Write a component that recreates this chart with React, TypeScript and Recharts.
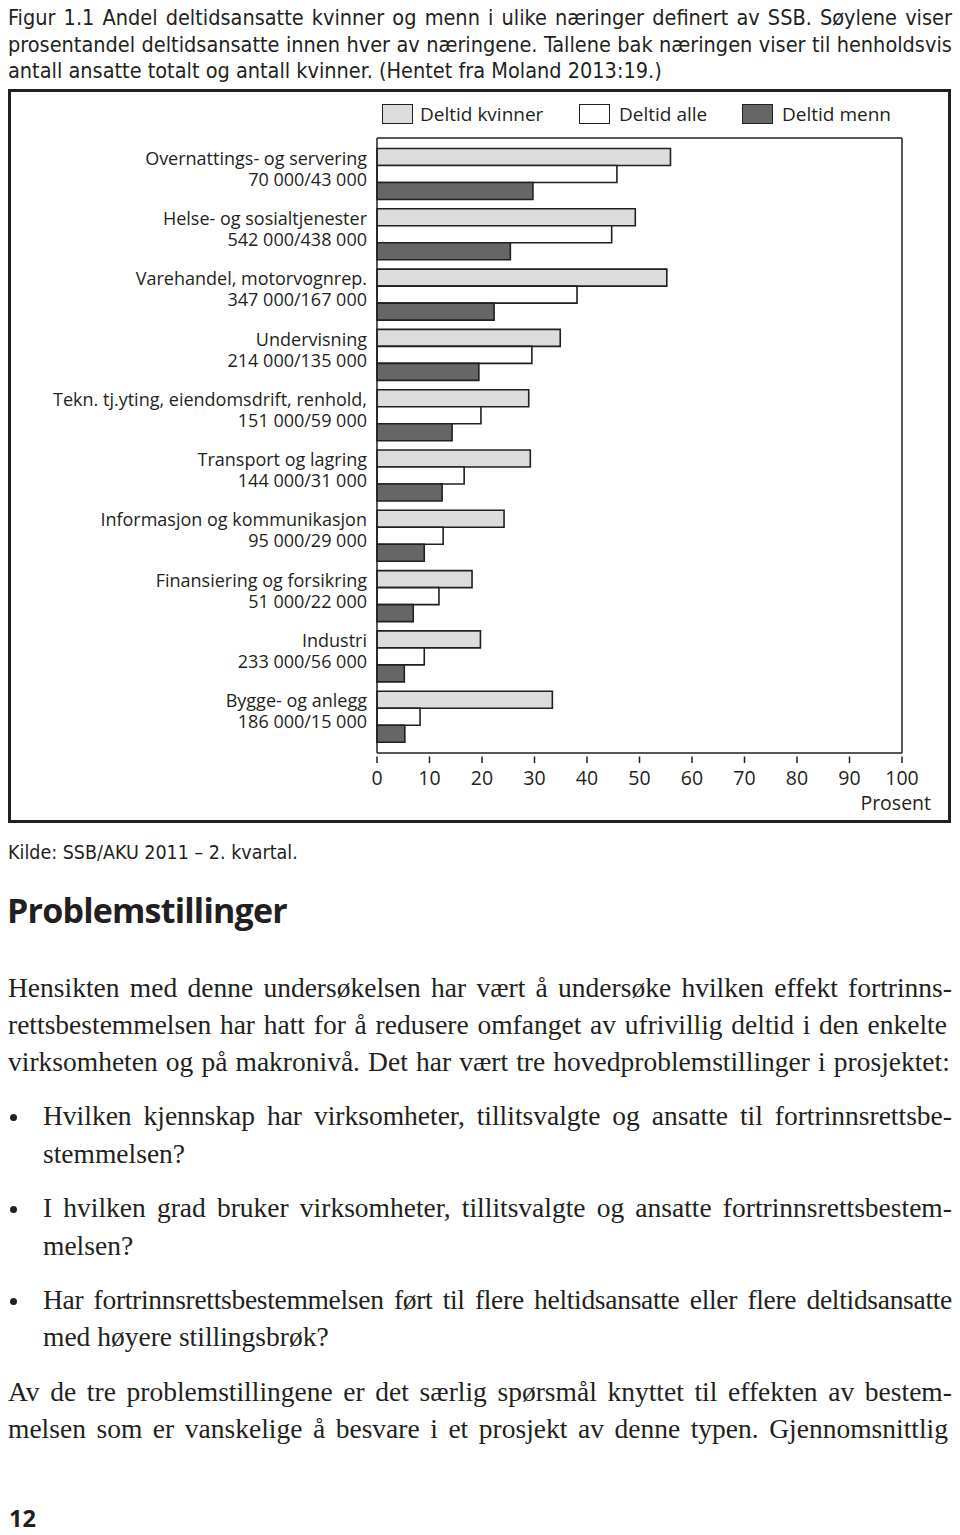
import React from "react";
import { BarChart, Bar, XAxis, YAxis, CartesianGrid } from "recharts";

const categories = [
  "Overnattings- og servering",
  "Helse- og sosialtjenester",
  "Varehandel, motorvognrep.",
  "Undervisning",
  "Tekn. tj.yting, eiendomsdrift, renhold,",
  "Transport og lagring",
  "Informasjon og kommunikasjon",
  "Finansiering og forsikring",
  "Industri",
  "Bygge- og anlegg",
];
const counts = [
  "70 000/43 000",
  "542 000/438 000",
  "347 000/167 000",
  "214 000/135 000",
  "151 000/59 000",
  "144 000/31 000",
  "95 000/29 000",
  "51 000/22 000",
  "233 000/56 000",
  "186 000/15 000",
];
const deltidKvinner = [55.9, 49.2, 55.2, 34.9, 28.9, 29.2, 24.2, 18.1, 19.7, 33.4];
const deltidAlle = [45.7, 44.7, 38.1, 29.5, 19.8, 16.6, 12.6, 11.8, 9.0, 8.2];
const deltidMenn = [29.7, 25.4, 22.3, 19.4, 14.3, 12.4, 9.0, 6.9, 5.2, 5.3];
const xTicks = [0, 10, 20, 30, 40, 50, 60, 70, 80, 90, 100];

const series = [
  { key: "kvinner", name: "Deltid kvinner", fill: "#dcdcdc" },
  { key: "alle", name: "Deltid alle", fill: "#ffffff" },
  { key: "menn", name: "Deltid menn", fill: "#666666" },
];

const data = categories.map((name, i) => ({
  name,
  count: counts[i],
  kvinner: deltidKvinner[i],
  alle: deltidAlle[i],
  menn: deltidMenn[i],
}));

const captionLines = [
  "Figur 1.1 Andel deltidsansatte kvinner og menn i ulike næringer definert av SSB. Søylene viser",
  "prosentandel deltidsansatte innen hver av næringene. Tallene bak næringen viser til henholdsvis",
  "antall ansatte totalt og antall kvinner. (Hentet fra Moland 2013:19.)",
];

const SANS = '"Open Sans", "Noto Sans", sans-serif';
const NARROW = '"Liberation Sans Narrow", "DejaVu Sans Condensed", "DejaVu Sans", sans-serif';
const SERIF = '"Liberation Serif", "DejaVu Serif", serif';
const INK = "#231f20";
const BODY = 27.5;

function Line({ text, left, right, cy, h, font, size, justify, weight, stretch, spacing }: any) {
  const base: React.CSSProperties = {
    position: "absolute",
    left,
    top: cy - h / 2,
    height: h,
    lineHeight: `${h}px`,
    fontFamily: font,
    fontSize: size,
    fontWeight: weight || 400,
    fontStretch: stretch || "normal",
    letterSpacing: spacing || 0,
    color: INK,
    whiteSpace: "nowrap",
  };
  if (!justify) return <div style={base}>{text}</div>;
  return (
    <div style={{ ...base, width: right - left, display: "flex", justifyContent: "space-between" }}>
      {text.split(" ").map((w: string, i: number) => (
        <span key={i}>{w}</span>
      ))}
    </div>
  );
}

const CategoryTick = (props: any) => {
  const { x, y, payload } = props;
  const idx = categories.indexOf(payload.value);
  return (
    <g>
      <text x={x} y={y - 9} textAnchor="end" fontFamily={SANS} fontSize={18} fill={INK}>
        {payload.value}
      </text>
      <text x={x} y={y + 12} textAnchor="end" fontFamily={SANS} fontSize={18} fill={INK}>
        {counts[idx]}
      </text>
    </g>
  );
};

const PercentTick = (props: any) => {
  const { x, y, payload } = props;
  return (
    <g>
      <line x1={x} x2={x} y1={y - 6.5} y2={y} stroke={INK} strokeWidth={1.5} />
      <text x={x} y={y + 22} textAnchor="middle" fontFamily={SANS} fontSize={19.5} fill={INK}>
        {payload.value}
      </text>
    </g>
  );
};

const ProsentLabel = (props: any) => {
  const { viewBox } = props;
  return (
    <text
      x={viewBox.x + viewBox.width + 29}
      y={viewBox.y + 57}
      textAnchor="end"
      fontFamily={SANS}
      fontSize={19.5}
      fill={INK}
    >
      Prosent
    </text>
  );
};

const legendPos = [
  { box: 382, text: 420 },
  { box: 579, text: 619 },
  { box: 742, text: 782 },
];

export default function App() {
  return (
    <div style={{ position: "absolute", left: 0, top: 0, width: 960, height: 1535, background: "#fff", overflow: "hidden" }}>
      {captionLines.map((t, i) => (
        <Line
          key={i}
          text={t}
          left={8}
          right={952}
          cy={18 + i * 26.5}
          h={26}
          font={NARROW}
          size={21.5}
          stretch="condensed"
          justify={i < 2}
        />
      ))}

      <div
        style={{
          position: "absolute",
          left: 8,
          top: 89,
          width: 943,
          height: 734,
          border: `3px solid ${INK}`,
          boxSizing: "border-box",
        }}
      />

      {series.map((s, i) => (
        <React.Fragment key={s.key}>
          <div
            style={{
              position: "absolute",
              left: legendPos[i].box,
              top: 104,
              width: 31,
              height: 20,
              background: s.fill,
              border: `1.5px solid ${INK}`,
              boxSizing: "border-box",
            }}
          />
          <div
            style={{
              position: "absolute",
              left: legendPos[i].text,
              top: 100,
              height: 28,
              lineHeight: "28px",
              fontFamily: SANS,
              fontSize: 19,
              color: INK,
              whiteSpace: "nowrap",
            }}
          >
            {s.name}
          </div>
        </React.Fragment>
      ))}

      <div style={{ position: "absolute", left: 0, top: 90 }}>
        <BarChart
          width={960}
          height={740}
          data={data}
          layout="vertical"
          margin={{ top: 48, right: 58, bottom: 17, left: 0 }}
          barCategoryGap={5}
          barGap={0}
        >
          <CartesianGrid
            stroke={INK}
            strokeWidth={1.5}
            horizontalCoordinatesGenerator={({ offset }: any) => [offset.top]}
            verticalCoordinatesGenerator={({ offset }: any) => [offset.left + offset.width]}
          />
          <XAxis
            type="number"
            domain={[0, 100]}
            ticks={xTicks}
            interval={0}
            height={60}
            axisLine={{ stroke: INK, strokeWidth: 1.5 }}
            tickLine={false}
            tickSize={10}
            tickMargin={0}
            tick={<PercentTick />}
            label={<ProsentLabel />}
          />
          <YAxis
            type="category"
            dataKey="name"
            width={377}
            interval={0}
            padding={{ top: 5.5, bottom: 6.5 }}
            axisLine={{ stroke: INK, strokeWidth: 1.5 }}
            tickLine={false}
            tickSize={0}
            tickMargin={10}
            tick={<CategoryTick />}
          />
          {series.map((s) => (
            <Bar
              key={s.key}
              dataKey={s.key}
              name={s.name}
              fill={s.fill}
              stroke={INK}
              strokeWidth={1.6}
              isAnimationActive={false}
            />
          ))}
        </BarChart>
      </div>

      <Line text="Kilde: SSB/AKU 2011 – 2. kvartal." left={8} cy={853} h={24} font={NARROW} size={19.5} stretch="condensed" />
      <Line text="Problemstillinger" left={7} cy={910} h={44} font={SANS} size={34} weight={700} spacing={-0.8} />

      <Line text="Hensikten med denne undersøkelsen har vært å undersøke hvilken effekt fortrinns-" left={8} right={952} cy={987} h={37} font={SERIF} size={BODY} justify />
      <Line text="rettsbestemmelsen har hatt for å redusere omfanget av ufrivillig deltid i den enkelte" left={8} right={947} cy={1024} h={37} font={SERIF} size={BODY} justify />
      <Line text="virksomheten og på makronivå. Det har vært tre hovedproblemstillinger i prosjektet:" left={8} right={950} cy={1061} h={37} font={SERIF} size={BODY} justify />

      {[1117, 1209, 1301].map((cy) => (
        <div
          key={cy}
          style={{ position: "absolute", left: 10, top: cy - 3.5, width: 7, height: 7, borderRadius: "50%", background: INK }}
        />
      ))}
      <Line text="Hvilken kjennskap har virksomheter, tillitsvalgte og ansatte til fortrinnsrettsbe-" left={43} right={952} cy={1115} h={37} font={SERIF} size={BODY} justify />
      <Line text="stemmelsen?" left={43} cy={1153} h={37} font={SERIF} size={BODY} />
      <Line text="I hvilken grad bruker virksomheter, tillitsvalgte og ansatte fortrinnsrettsbestem-" left={43} right={952} cy={1207} h={37} font={SERIF} size={BODY} justify />
      <Line text="melsen?" left={43} cy={1245} h={37} font={SERIF} size={BODY} />
      <Line text="Har fortrinnsrettsbestemmelsen ført til flere heltidsansatte eller flere deltidsansatte" left={43} right={952} cy={1299} h={37} font={SERIF} size={BODY} spacing={-0.3} justify />
      <Line text="med høyere stillingsbrøk?" left={43} cy={1336} h={37} font={SERIF} size={BODY} />
      <Line text="Av de tre problemstillingene er det særlig spørsmål knyttet til effekten av bestem-" left={8} right={952} cy={1391} h={37} font={SERIF} size={BODY} justify />
      <Line text="melsen som er vanskelige å besvare i et prosjekt av denne typen. Gjennomsnittlig" left={8} right={948} cy={1428} h={37} font={SERIF} size={BODY} justify />

      <Line text="12" left={9} cy={1518} h={22} font={SANS} size={23.5} weight={700} />
    </div>
  );
}
